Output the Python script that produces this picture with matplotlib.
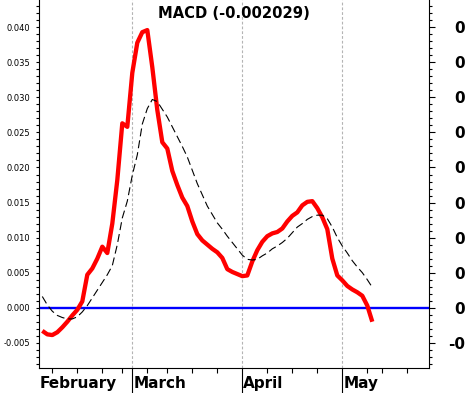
import matplotlib
matplotlib.use("Agg")
import matplotlib.pyplot as plt
from matplotlib.ticker import FixedLocator, MultipleLocator, FormatStrFormatter, NullFormatter

# ---------------- data (trading-day index on x) ----------------
days = list(range(67))
macd = [-0.0033, -0.0038, -0.0039, -0.0035, -0.0028, -0.0020, -0.0011, -0.0003, 0.0009, 0.0047,
        0.0056, 0.0070, 0.0087, 0.0078, 0.0120, 0.0182, 0.0263, 0.0258, 0.0335, 0.0378,
        0.0393, 0.0396, 0.0343, 0.0282, 0.0236, 0.0227, 0.0195, 0.0175, 0.0157, 0.0145,
        0.0123, 0.0105, 0.0096, 0.0090, 0.0084, 0.0079, 0.0071, 0.0055, 0.0051, 0.0048,
        0.0045, 0.0046, 0.0066, 0.0082, 0.0094, 0.0102, 0.0106, 0.0108, 0.0113, 0.0123,
        0.0131, 0.0136, 0.0146, 0.0151, 0.0152, 0.0142, 0.0129, 0.0112, 0.0070, 0.0046,
        0.0039, 0.0031, 0.0026, 0.0022, 0.0017, 0.0003, -0.0020]
signal = [0.0016, 0.0004, -0.0005, -0.0011, -0.0014, -0.0016, -0.0016, -0.0013, -0.0006, 0.0003,
          0.0014, 0.0025, 0.0036, 0.0047, 0.0060, 0.0090, 0.0128, 0.0152, 0.0189, 0.0218,
          0.0262, 0.0284, 0.0297, 0.0294, 0.0283, 0.0272, 0.0258, 0.0244, 0.0230, 0.0215,
          0.0196, 0.0177, 0.0161, 0.0145, 0.0133, 0.0121, 0.0112, 0.0102, 0.0093, 0.0084,
          0.0075, 0.0069, 0.0068, 0.0069, 0.0074, 0.0078, 0.0084, 0.0088, 0.0093, 0.0099,
          0.0107, 0.0115, 0.0120, 0.0126, 0.0130, 0.0132, 0.0132, 0.0127, 0.0115, 0.0100,
          0.0088, 0.0078, 0.0067, 0.0058, 0.0050, 0.0040, 0.0029]
title_value = -0.002029
month_names = ["February", "March", "April", "May"]
month_starts = [-0.66, 18, 40, 60]
week_ticks = [2, 7, 12, 16, 21, 25, 30, 35, 45, 50, 55, 65, 68, 73]
y_ticks = [-0.005, 0.000, 0.005, 0.010, 0.015, 0.020, 0.025, 0.030, 0.035, 0.040]
right_labels = ["-0", "0", "0", "0", "0", "0", "0", "0", "0", "0"]

# ---------------- figure ----------------
W, H = 467, 393
fig = plt.figure(figsize=(W / 100, H / 100), dpi=100)
ax = fig.add_axes([39 / W, 25 / H, 390 / W, 368 / H])
xmin, xmax = -0.66, 77.34
ymin, ymax = -0.0086, 0.04389
ax.set_xlim(xmin, xmax)
ax.set_ylim(ymin, ymax)

ax.axhline(0, color="#0000ff", lw=1.7, zorder=2)
ax.plot(days, macd, color="#ff0000", lw=3.1, zorder=3,
        solid_joinstyle="round", solid_capstyle="butt")
ax.plot(days, signal, color="black", lw=0.8, dashes=(7.2, 3.6), zorder=4)

# spines
for s in ["top", "right"]:
    ax.spines[s].set_visible(False)
for s in ["left", "bottom"]:
    ax.spines[s].set_linewidth(0.8)
    ax.spines[s].set_color("black")

# left y axis
ax.yaxis.set_major_locator(FixedLocator(y_ticks))
ax.yaxis.set_minor_locator(MultipleLocator(0.001))
ax.yaxis.set_major_formatter(FormatStrFormatter("%.3f"))
ax.tick_params(axis="y", which="both", direction="out", length=2.3, width=0.8,
               labelsize=6, pad=4.3, colors="black")

# x axis: month separators (major), weekly ticks (minor)
ax.xaxis.set_major_locator(FixedLocator(month_starts[1:]))
ax.xaxis.set_minor_locator(FixedLocator(week_ticks))
ax.xaxis.set_major_formatter(NullFormatter())
ax.tick_params(axis="x", which="major", direction="out", length=18, width=0.8)
ax.tick_params(axis="x", which="minor", direction="out", length=3.6, width=0.8)
ax.grid(axis="x", which="major", color="#b4b4b4", lw=0.8, linestyle=(0, (2.5, 1.8)), zorder=1)

for name, start in zip(month_names, month_starts):
    ax.annotate(name, xy=(max(start, xmin), 0), xycoords=("data", "axes fraction"),
                xytext=(0.6, -14.6), textcoords="offset points", ha="left", va="baseline",
                fontsize=11, fontweight="bold", annotation_clip=False)

# right y axis
ax2 = ax.twinx()
ax2.set_ylim(ymin, ymax)
for s in ["top", "left", "bottom"]:
    ax2.spines[s].set_visible(False)
ax2.spines["right"].set_linewidth(0.8)
ax2.yaxis.set_major_locator(FixedLocator(y_ticks))
ax2.yaxis.set_minor_locator(MultipleLocator(0.001))
ax2.set_yticklabels(right_labels, fontsize=11, fontweight="bold")
ax2.tick_params(axis="y", which="major", direction="out", length=4.3, width=0.8, pad=21.6)
ax2.tick_params(axis="y", which="minor", direction="out", length=2.2, width=0.8)
for t in ax2.get_yticklabels():
    t.set_horizontalalignment("right")

# title inside the plot
ax.text(0.5, 1 - 18.3 / 368, f"MACD ({title_value:.6f})", transform=ax.transAxes,
        ha="center", va="baseline", fontsize=10.6, fontweight="bold")

fig.savefig("out.png", dpi=100)
